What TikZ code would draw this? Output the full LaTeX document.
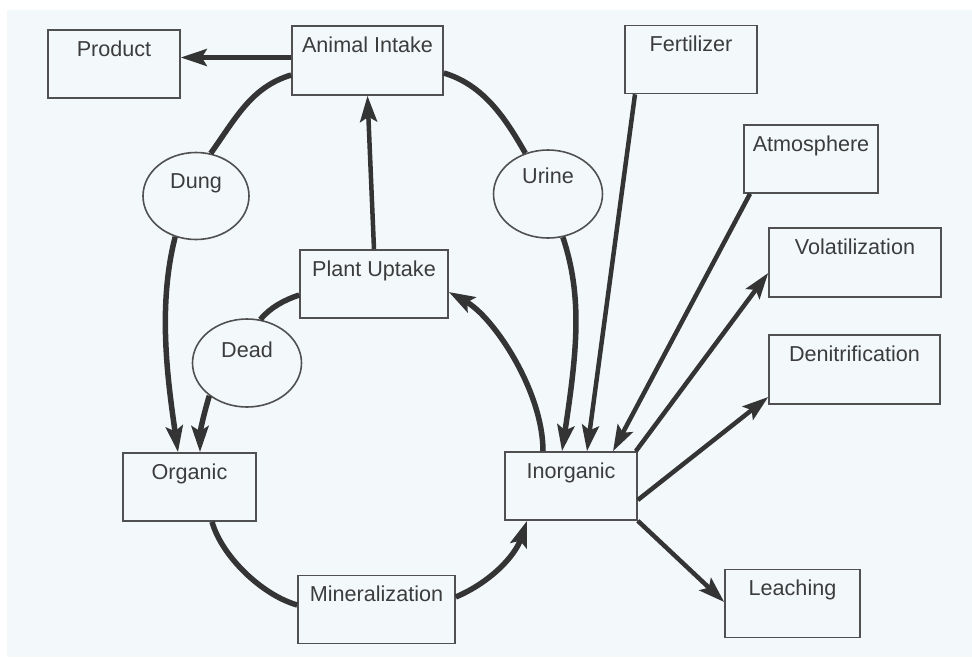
\documentclass[tikz,border=0pt]{standalone}
\usepackage{fontspec}
\setmainfont{Liberation Sans}
\usetikzlibrary{arrows.meta}
\definecolor{bgc}{RGB}{243,249,251}
\definecolor{inkc}{RGB}{52,52,52}
\definecolor{boxc}{RGB}{80,80,80}
\definecolor{txtc}{RGB}{60,60,60}
\tikzset{
  box/.style={draw=boxc,line width=1.6pt,fill=none,rectangle,inner xsep=0pt,inner ysep=0pt,
    text height=26pt,text depth=42pt,text=txtc,font=\fontsize{21.6}{24}\selectfont},
  ell/.style={draw=boxc,line width=1.6pt,ellipse,inner sep=0pt},
  lbl/.style={text=txtc,font=\fontsize{21.6}{24}\selectfont,inner sep=0pt,anchor=base},
  curve/.style={draw=inkc,line width=5.5pt},
  carr/.style={curve,-{Stealth[length=26pt,width=17pt,inset=5pt]}},
  sarr/.style={draw=inkc,line width=4.5pt,-{Stealth[length=26pt,width=17pt,inset=5pt]}},
  sline/.style={draw=inkc,line width=4.5pt},
}
\usetikzlibrary{shapes.geometric}
\begin{document}
\begin{tikzpicture}[x=1pt,y=-1pt]
\useasboundingbox (0,0) rectangle (972,657);
\fill[white] (0,0) rectangle (972,657);
\fill[bgc] (7,10) rectangle (972,657);

% boxes
\node[box,minimum width=132pt,minimum height=68pt] (prod) at (114,64) {Product};
\node[box,minimum width=151pt,minimum height=69pt] (anim) at (367.5,60.5) {Animal Intake};
\node[box,minimum width=148pt,minimum height=68pt] (plant) at (374,284) {Plant Uptake};
\node[box,minimum width=132pt,minimum height=67pt] (fert) at (691,59.5) {Fertilizer};
\node[box,minimum width=134pt,minimum height=68pt] (atm) at (811,159) {Atmosphere};
\node[box,minimum width=172pt,minimum height=69pt] (vol) at (855,262.5) {Volatilization};
\node[box,minimum width=171pt,minimum height=69pt] (den) at (854.5,369.5) {Denitrification};
\node[box,minimum width=133pt,minimum height=68pt] (org) at (189.5,487) {Organic};
\node[box,minimum width=132pt,minimum height=66pt] (inorg) at (571,486) {Inorganic};
\node[box,minimum width=157pt,minimum height=67pt] (mine) at (376.5,609.5) {Mineralization};
\node[box,minimum width=135pt,minimum height=67pt] (leach) at (792.5,603.5) {Leaching};

% ellipses
\node[ell,minimum width=106pt,minimum height=87pt] (dung) at (196,196) {};
\node[lbl] (dungt) at ([yshift=8pt]dung.center) {Dung};
\node[ell,minimum width=109pt,minimum height=88pt] (urine) at (548,194) {};
\node[lbl] (urinet) at ([yshift=11pt]urine.center) {Urine};
\node[ell,minimum width=109pt,minimum height=88pt] (dead) at (247,363) {};
\node[lbl] (deadt) at ([yshift=6pt]dead.center) {Dead};

% connectors
\draw[sarr] ([yshift=3pt]anim.west) -- ([yshift=3pt]anim.west -| prod.east);
\draw[sarr] (plant.north) -- (anim.south);
\draw[curve] ([yshift=-14.5pt]anim.west) .. controls +(-40,12) and +(25,-35) .. (dung.71);
\draw[carr] (dung.243) .. controls +(-18,70) and +(-10,-70) .. ([xshift=-11.5pt]org.north);
\draw[curve] ([yshift=-11pt]plant.west) .. controls +(-15,5) and +(10,-12) .. (dead.73);
\draw[carr] (dead.221) .. controls +(-6,20) and +(0,-20) .. ([xshift=10.5pt]org.north);
\draw[curve] ([xshift=22.5pt]org.south) .. controls +(10,35) and +(-35,-10) .. ([yshift=4.5pt]mine.west);
\draw[carr] ([yshift=12.5pt]mine.east) .. controls +(35,-15) and +(-12,35) .. ([xshift=-44pt]inorg.south);
\draw[carr] ([xshift=-28pt]inorg.north) .. controls +(0,-60) and +(45,25) .. ([yshift=-8pt]plant.east);
\draw[curve] ([yshift=-12.5pt]anim.east) .. controls +(40,12) and +(-20,-35) .. (urine.119);
\draw[carr] (urine.289) .. controls +(20,60) and +(15,-100) .. ([xshift=-9pt]inorg.north);
\draw[sarr] ([xshift=-56pt]fert.south) -- ([xshift=16pt]inorg.north);
\draw[sarr] ([xshift=-61pt]atm.south) -- ([xshift=42pt]inorg.north);
\draw[sarr] ([xshift=-2pt]inorg.north east) -- ([yshift=-10.5pt]vol.west);
\draw[sarr] ([yshift=-14pt]inorg.east) -- ([yshift=-27.5pt]den.west);
\draw[sarr] (inorg.south east) -- ([yshift=1.5pt]leach.west);
\end{tikzpicture}
\end{document}
